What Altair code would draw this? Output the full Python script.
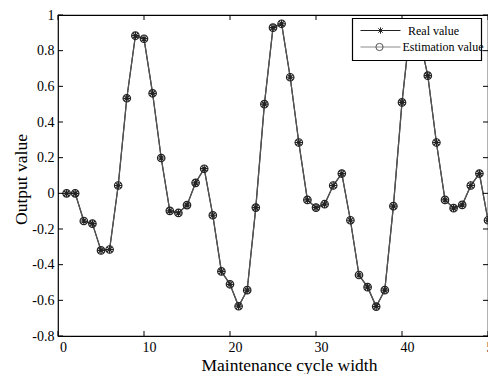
import altair as alt
import pandas as pd

# ---- data ----
cycle = list(range(1, 51))
real_value = [0.0, 0.0, -0.155, -0.17, -0.32, -0.315, 0.044, 0.533, 0.884, 0.867,
              0.561, 0.198, -0.098, -0.11, -0.066, 0.059, 0.138, -0.123, -0.438, -0.51,
              -0.633, -0.543, -0.08, 0.50, 0.929, 0.951, 0.651, 0.285, -0.037, -0.08,
              -0.061, 0.044, 0.111, -0.151, -0.458, -0.526, -0.635, -0.543, -0.072, 0.51,
              0.95, 0.88, 0.66, 0.285, -0.037, -0.083, -0.065, 0.044, 0.111, -0.151]
estimation_value = [0.0, 0.0, -0.155, -0.17, -0.32, -0.315, 0.044, 0.533, 0.884, 0.867,
                    0.561, 0.198, -0.098, -0.11, -0.066, 0.059, 0.138, -0.123, -0.438, -0.51,
                    -0.633, -0.543, -0.08, 0.50, 0.929, 0.951, 0.651, 0.285, -0.037, -0.08,
                    -0.061, 0.044, 0.111, -0.151, -0.458, -0.526, -0.635, -0.543, -0.072, 0.51,
                    0.95, 0.88, 0.66, 0.285, -0.037, -0.083, -0.065, 0.044, 0.111, -0.151]
x_ticks = [0, 10, 20, 30, 40, 50]
y_ticks = [-0.8, -0.6, -0.4, -0.2, 0, 0.2, 0.4, 0.6, 0.8, 1]
legend_labels = ["Real value", "Estimation value"]

W, H = 430, 321
FONT = "Liberation Serif"
STAR = "M0,-1L0,1M-1,0L1,0M-0.7,-0.7L0.7,0.7M-0.7,0.7L0.7,-0.7"

df = pd.DataFrame({"cycle": cycle, "real": real_value, "est": estimation_value})
xt = pd.DataFrame({"cycle": x_ticks})
yt = pd.DataFrame({"real": y_ticks})
one = pd.DataFrame({"a": [0]})

xscale = alt.Scale(domain=[0, 50], nice=False, zero=False)
yscale = alt.Scale(domain=[-0.8, 1], nice=False, zero=False)

x_axis = alt.Axis(values=x_ticks, title="Maintenance cycle width",
                  ticks=False, domain=False, grid=False,
                  labelOffset=5, labelPadding=4,
                  labelFontSize=14, titleFontSize=17.5,
                  titleFontWeight="normal",
                  titleX=231, titleY=34, titleBaseline="alphabetic",
                  titleAlign="center", labelFlush=False)
y_axis = alt.Axis(values=y_ticks, title="Output value",
                  ticks=False, domain=False, grid=False,
                  labelPadding=4, labelExpr="'' + datum.value",
                  labelFontSize=14, titleFontSize=17.5,
                  titleFontWeight="normal",
                  titleX=-32, titleY=164, titleBaseline="alphabetic",
                  titleAlign="center", titleAngle=-90, labelFlush=False)

X = alt.X("cycle:Q", scale=xscale, axis=x_axis, title="Maintenance cycle width")
Y_real = alt.Y("real:Q", scale=yscale, axis=y_axis, title="Output value")
Y_est = alt.Y("est:Q", scale=yscale, axis=y_axis, title="Output value")

base = alt.Chart(df)
est_line = base.mark_line(color="#555555", strokeWidth=1.2).encode(x=X, y=Y_est)
real_line = base.mark_line(color="#222222", strokeWidth=1.2).encode(x=X, y=Y_real)
circles = base.mark_point(shape="circle", size=56, filled=False, color="#222222",
                          strokeWidth=1.2, opacity=1).encode(x=X, y=Y_est)
stars = base.mark_point(shape=STAR, size=56, filled=False, color="#222222",
                        strokeWidth=1.2, opacity=1).encode(x=X, y=Y_real)

tick_bottom = alt.Chart(xt).mark_rule(color="black", strokeWidth=1).encode(
    x=X, y=alt.value(H), y2=alt.value(H - 5))
tick_top = alt.Chart(xt).mark_rule(color="black", strokeWidth=1).encode(
    x=X, y=alt.value(0), y2=alt.value(5))
tick_left = alt.Chart(yt).mark_rule(color="black", strokeWidth=1).encode(
    y=Y_real, x=alt.value(0), x2=alt.value(5))
tick_right = alt.Chart(yt).mark_rule(color="black", strokeWidth=1).encode(
    y=Y_real, x=alt.value(W), x2=alt.value(W - 5))

# ---- legend box ----
leg_box = alt.Chart(one).mark_rect(fill="white", stroke="black", strokeWidth=1.2).encode(
    x=alt.value(294.5), x2=alt.value(423.5), y=alt.value(3.5), y2=alt.value(45.5))
leg_line1 = alt.Chart(one).mark_rule(color="#222222", strokeWidth=1).encode(
    x=alt.value(302.5), x2=alt.value(342.5), y=alt.value(15.5))
leg_line2 = alt.Chart(one).mark_rule(color="#8a8a8a", strokeWidth=1).encode(
    x=alt.value(302.5), x2=alt.value(342.5), y=alt.value(32))
leg_star = alt.Chart(one).mark_point(shape=STAR, size=40, filled=False, color="#222222",
                                     strokeWidth=1, opacity=1).encode(
    x=alt.value(322.5), y=alt.value(15.5))
leg_circ = alt.Chart(one).mark_point(shape="circle", size=52, filled=False,
                                     color="#555555", strokeWidth=1, opacity=1).encode(
    x=alt.value(321.5), y=alt.value(32))
leg_text1 = alt.Chart(pd.DataFrame({"label": [legend_labels[0]]})).mark_text(
    align="left", baseline="middle", font=FONT, fontSize=12, color="black").encode(
    x=alt.value(350), y=alt.value(15.5), text="label:N")
leg_text2 = alt.Chart(pd.DataFrame({"label": [legend_labels[1]]})).mark_text(
    align="left", baseline="middle", font=FONT, fontSize=12, color="black").encode(
    x=alt.value(344.5), y=alt.value(32), text="label:N")

chart = alt.layer(
    real_line, est_line, circles, stars,
    tick_bottom, tick_top, tick_left, tick_right,
    leg_box, leg_line1, leg_line2, leg_star, leg_circ, leg_text1, leg_text2
).properties(
    width=W, height=H,
    autosize="none",
    padding={"left": 50, "top": 7, "right": 0, "bottom": 38},
    background="white",
).configure(font=FONT).configure_view(
    stroke="black", strokeWidth=1.2
).configure_axis(
    labelColor="black", titleColor="black", labelFont=FONT, titleFont=FONT
)

chart.save("out.html", embed_options={"renderer": "svg", "actions": False})
